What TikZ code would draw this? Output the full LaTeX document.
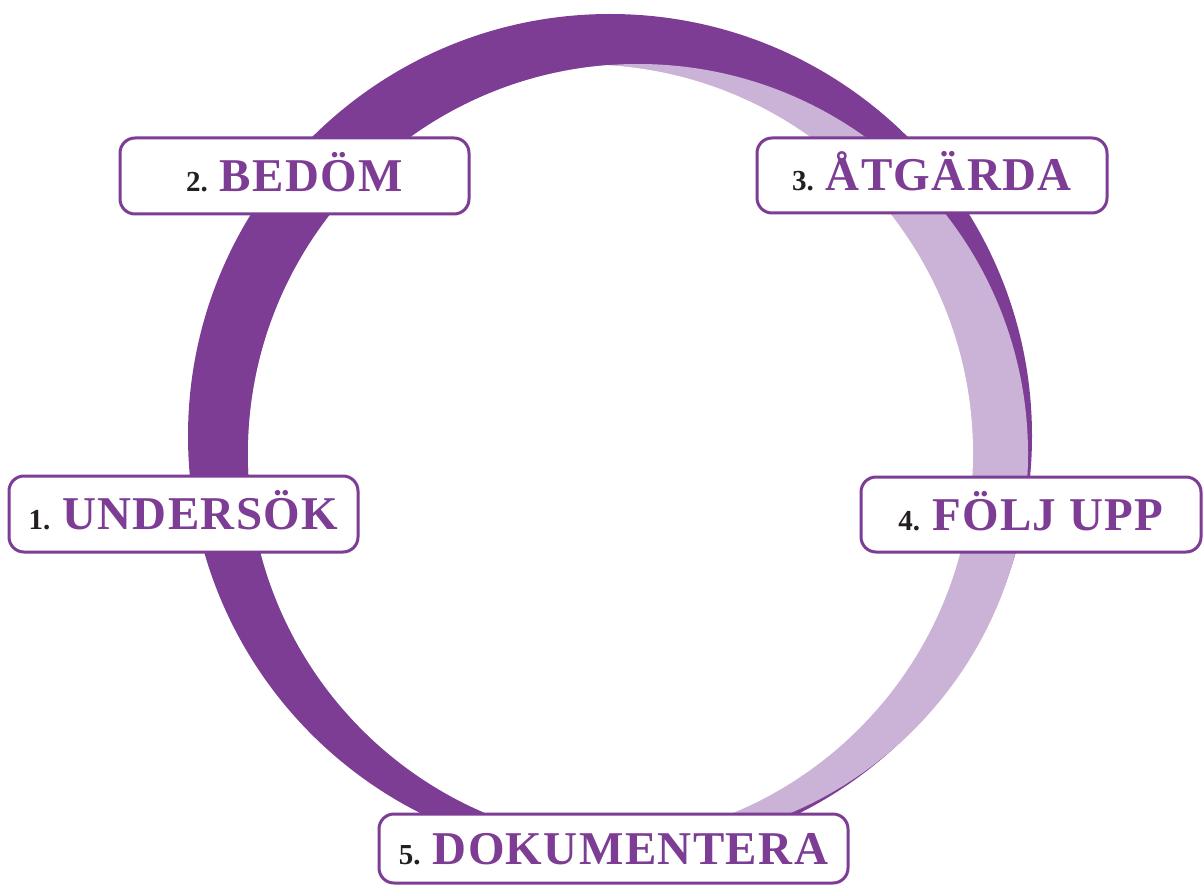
\documentclass[tikz,border=0pt]{standalone}
\usepackage{fontspec}
\setmainfont{Liberation Serif}
\definecolor{purp}{RGB}{125,61,149}
\definecolor{lpurp}{RGB}{203,178,215}
\definecolor{numc}{RGB}{35,31,32}
\newcommand\steplabel[2]{{\color{numc}\fontsize{29}{30}\selectfont #1.}\hspace{12pt}{\color{purp}\fontsize{47}{48}\selectfont\addfontfeatures{LetterSpace=3}#2}}
\begin{document}
\begin{tikzpicture}[x=1pt,y=-1pt,
  stepbox/.style={draw=purp, line width=3pt, fill=white, rounded corners=15pt,
    inner sep=0pt, font=\bfseries, text height=31pt, text depth=0pt, align=center}]
\useasboundingbox (0,0) rectangle (1204,885);
% ring
\fill[purp] (610,436) circle[radius=422pt];
\fill[lpurp] (638,454) circle[radius=390pt];
\begin{scope}
  \clip (638,454) circle[radius=390pt];
  \fill[white] (584,453.5) circle[radius=389pt];
\end{scope}
% boxes
\node[stepbox, minimum width=349pt, minimum height=76pt] (s1) at (183.5,514) {\steplabel{1}{UNDERSÖK}};
\node[stepbox, minimum width=349pt, minimum height=76pt] (s2) at (294.5,176) {\steplabel{2}{BEDÖM}};
\node[stepbox, minimum width=350pt, minimum height=75pt] (s3) at (932,175.5) {\steplabel{3}{ÅTGÄRDA}};
\node[stepbox, minimum width=340pt, minimum height=75pt] (s4) at (1031,514.5) {\steplabel{4}{FÖLJ UPP}};
\node[stepbox, minimum width=469pt, minimum height=69pt] (s5) at (613.5,848.5) {\steplabel{5}{DOKUMENTERA}};
\end{tikzpicture}
\end{document}
